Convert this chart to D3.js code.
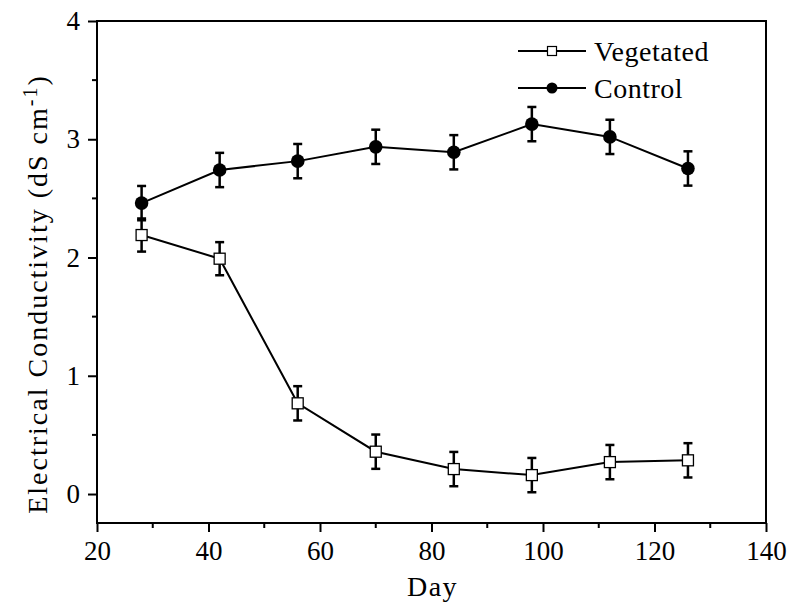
<!DOCTYPE html>
<html>
<head>
<meta charset="utf-8">
<script src="https://cdn.jsdelivr.net/npm/d3@7"></script>
<style>
  body { margin: 0; background: #fff; }
  text { font-family: "Times New Roman", "Liberation Serif", Times, serif !important; fill: #000; }
</style>
</head>
<body>
<div id="chart"></div>
<script>
// days of sampling
var days = [28, 42, 56, 70, 84, 98, 112, 126];
var vegetated = [2.19, 1.99, 0.767, 0.358, 0.211, 0.16, 0.27, 0.285];
var vegetatedErr = [0.14, 0.14, 0.145, 0.145, 0.145, 0.145, 0.145, 0.145];
var control = [2.46, 2.74, 2.815, 2.936, 2.89, 3.128, 3.02, 2.753];
var controlErr = [0.145, 0.145, 0.145, 0.145, 0.145, 0.145, 0.145, 0.145];
var xTicks = [20, 40, 60, 80, 100, 120, 140];
var yTicks = [0, 1, 2, 3, 4];
var seriesNames = ["Vegetated", "Control"];

var W = 791, H = 604;
var margin = { top: 21, right: 25, bottom: 81, left: 97 },
    width = W - margin.left - margin.right,
    height = H - margin.top - margin.bottom;

var x = d3.scaleLinear().domain([20, 140]).range([0, width]);
var y = d3.scaleLinear().domain([-0.245, 4]).range([height, 0]);

var svg = d3.select("#chart").append("svg")
    .attr("width", W)
    .attr("height", H)
    .append("g")
    .attr("transform", "translate(" + margin.left + "," + margin.top + ")");

// frame
svg.append("rect")
    .attr("x", 0).attr("y", 0)
    .attr("width", width).attr("height", height)
    .style("fill", "none").style("stroke", "#000").style("stroke-width", "2px");

// axes
var xAxis = d3.axisBottom(x).tickValues(xTicks).tickSize(9).tickPadding(9).tickFormat(d3.format("d"));
var yAxis = d3.axisLeft(y).tickValues(yTicks).tickSize(9).tickPadding(8).tickFormat(d3.format("d"));

var gx = svg.append("g")
    .attr("class", "x axis")
    .attr("transform", "translate(0," + height + ")")
    .call(xAxis);
var gy = svg.append("g")
    .attr("class", "y axis")
    .call(yAxis);

// minor ticks
var xMinor = d3.range(30, 140, 20);
var yMinor = d3.range(0.5, 4, 1);
gx.selectAll("line.minor").data(xMinor).enter().append("line")
    .attr("class", "minor")
    .attr("x1", function (d) { return x(d); })
    .attr("x2", function (d) { return x(d); })
    .attr("y1", 0).attr("y2", 5);
gy.selectAll("line.minor").data(yMinor).enter().append("line")
    .attr("class", "minor")
    .attr("y1", function (d) { return y(d); })
    .attr("y2", function (d) { return y(d); })
    .attr("x1", 0).attr("x2", -5);

svg.selectAll(".axis path").style("display", "none");
svg.selectAll(".axis line").style("stroke", "#000").style("stroke-width", "2px");
svg.selectAll(".axis text").style("font-size", "27px");

// axis titles
svg.append("text")
    .attr("x", width / 2 + 1)
    .attr("y", height + 73)
    .style("text-anchor", "middle")
    .style("font-size", "28px")
    .style("letter-spacing", "1.5px")
    .text("Day");

var ylab = svg.append("text")
    .attr("transform", "rotate(-90)")
    .attr("x", -273)
    .attr("y", -50)
    .style("text-anchor", "middle")
    .style("font-size", "28px")
    .style("letter-spacing", "2px");
ylab.append("tspan").text("Electrical Conductivity (dS cm");
ylab.append("tspan").attr("dy", "-0.5em").style("font-size", "20px").text("-1");
ylab.append("tspan").attr("dy", "0.35em").text(")");

var line = d3.line()
    .x(function (d, i) { return x(days[i]); })
    .y(function (d) { return y(d); });

function drawSeries(values, errs, shape) {
    var g = svg.append("g");
    g.append("path")
        .datum(values)
        .attr("d", line)
        .style("fill", "none").style("stroke", "#000").style("stroke-width", "2px");
    var eb = g.selectAll(".err").data(values).enter().append("g").attr("class", "err");
    eb.append("line")
        .attr("x1", function (d, i) { return x(days[i]); })
        .attr("x2", function (d, i) { return x(days[i]); })
        .attr("y1", function (d, i) { return y(d + errs[i]); })
        .attr("y2", function (d, i) { return y(d - errs[i]); });
    eb.append("line")
        .attr("x1", function (d, i) { return x(days[i]) - 4.5; })
        .attr("x2", function (d, i) { return x(days[i]) + 4.5; })
        .attr("y1", function (d, i) { return y(d + errs[i]); })
        .attr("y2", function (d, i) { return y(d + errs[i]); });
    eb.append("line")
        .attr("x1", function (d, i) { return x(days[i]) - 4.5; })
        .attr("x2", function (d, i) { return x(days[i]) + 4.5; })
        .attr("y1", function (d, i) { return y(d - errs[i]); })
        .attr("y2", function (d, i) { return y(d - errs[i]); });
    eb.selectAll("line").style("stroke", "#000").style("stroke-width", "2.5px");
    if (shape === "square") {
        g.selectAll(".pt").data(values).enter().append("rect")
            .attr("x", function (d, i) { return x(days[i]) - 5.5; })
            .attr("y", function (d) { return y(d) - 5.5; })
            .attr("width", 11).attr("height", 11)
            .style("fill", "#fff").style("stroke", "#000").style("stroke-width", "1.3px");
    } else {
        g.selectAll(".pt").data(values).enter().append("circle")
            .attr("cx", function (d, i) { return x(days[i]); })
            .attr("cy", function (d) { return y(d); })
            .attr("r", 6.8)
            .style("fill", "#000");
    }
}

drawSeries(control, controlErr, "circle");
drawSeries(vegetated, vegetatedErr, "square");

// legend
var legend = svg.append("g").attr("transform", "translate(" + (518 - margin.left) + "," + (51 - margin.top) + ")");
seriesNames.forEach(function (name, i) {
    var row = legend.append("g").attr("transform", "translate(0," + (i * 37) + ")");
    row.append("line").attr("x1", 0).attr("x2", 68).attr("y1", 0).attr("y2", 0)
        .style("stroke", "#000").style("stroke-width", "2px");
    if (i === 0) {
        row.append("rect").attr("x", 34 - 4.5).attr("y", -4.5).attr("width", 9).attr("height", 9)
            .style("fill", "#fff").style("stroke", "#000").style("stroke-width", "1.2px");
    } else {
        row.append("circle").attr("cx", 34).attr("cy", 0).attr("r", 5.5).style("fill", "#000");
    }
    row.append("text").attr("x", 76).attr("y", 10)
        .style("font-size", "28px").style("letter-spacing", "0.5px").text(name);
});
</script>
</body>
</html>
